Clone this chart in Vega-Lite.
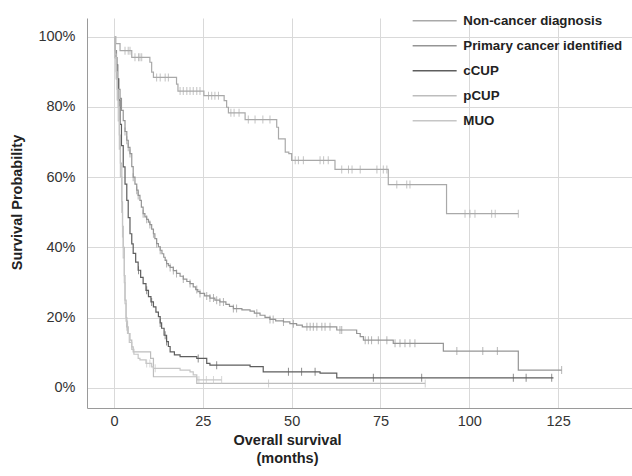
{
"$schema": "https://vega.github.io/schema/vega-lite/v6.json",
"width": 545, "height": 390,
"autosize": {"type": "none"},
"padding": {"left": 87, "top": 18, "right": 0, "bottom": 68},
"background": "white",
"config": {
 "view": {"stroke": null},
 "font": "Liberation Sans",
 "axis": {"gridColor": "#d9d9d9", "gridWidth": 1, "domainColor": "#9a9a9a", "domainWidth": 1, "ticks": false, "labelFontSize": 14.5, "labelColor": "#333333", "labelFont": "Liberation Sans", "titleFont": "Liberation Sans", "titleFontSize": 14.5, "titleFontWeight": "bold", "titleColor": "#222222"}
},
"datasets": {
 "steps": [
  {"g":"Non-cancer diagnosis","t":0,"s":100},{"g":"Non-cancer diagnosis","t":0.5,"s":98},{"g":"Non-cancer diagnosis","t":1.7,"s":96},{"g":"Non-cancer diagnosis","t":5,"s":94.1},{"g":"Non-cancer diagnosis","t":10.1,"s":92.7},{"g":"Non-cancer diagnosis","t":10.6,"s":89.9},{"g":"Non-cancer diagnosis","t":11.1,"s":88.4},{"g":"Non-cancer diagnosis","t":17.6,"s":86.5},{"g":"Non-cancer diagnosis","t":18,"s":84.5},{"g":"Non-cancer diagnosis","t":25.3,"s":83.2},{"g":"Non-cancer diagnosis","t":31,"s":81.8},{"g":"Non-cancer diagnosis","t":31.7,"s":79.9},{"g":"Non-cancer diagnosis","t":32.2,"s":78.3},{"g":"Non-cancer diagnosis","t":36.9,"s":76.4},{"g":"Non-cancer diagnosis","t":45.8,"s":74.2},{"g":"Non-cancer diagnosis","t":46.3,"s":70.9},{"g":"Non-cancer diagnosis","t":48.2,"s":67.1},{"g":"Non-cancer diagnosis","t":49.2,"s":66.7},{"g":"Non-cancer diagnosis","t":50,"s":64.8},{"g":"Non-cancer diagnosis","t":62.2,"s":62.2},{"g":"Non-cancer diagnosis","t":77.2,"s":57.9},{"g":"Non-cancer diagnosis","t":93.6,"s":49.6},{"g":"Non-cancer diagnosis","t":113.8,"s":49.6},
  {"g":"Primary cancer identified","t":0,"s":100},{"g":"Primary cancer identified","t":0.3,"s":96},{"g":"Primary cancer identified","t":0.7,"s":92},{"g":"Primary cancer identified","t":1.1,"s":88},{"g":"Primary cancer identified","t":1.4,"s":85},{"g":"Primary cancer identified","t":1.7,"s":82.4},{"g":"Primary cancer identified","t":2.1,"s":79},{"g":"Primary cancer identified","t":2.6,"s":76.1},{"g":"Primary cancer identified","t":3.1,"s":73},{"g":"Primary cancer identified","t":3.6,"s":70.5},{"g":"Primary cancer identified","t":4.0,"s":68.5},{"g":"Primary cancer identified","t":4.5,"s":66.7},{"g":"Primary cancer identified","t":5.0,"s":63},{"g":"Primary cancer identified","t":5.4,"s":60},{"g":"Primary cancer identified","t":5.9,"s":58},{"g":"Primary cancer identified","t":6.4,"s":56.3},{"g":"Primary cancer identified","t":6.8,"s":54.8},{"g":"Primary cancer identified","t":7.3,"s":53.4},{"g":"Primary cancer identified","t":7.7,"s":51.5},{"g":"Primary cancer identified","t":8.2,"s":49.6},{"g":"Primary cancer identified","t":8.7,"s":48.7},{"g":"Primary cancer identified","t":9.2,"s":48},{"g":"Primary cancer identified","t":9.7,"s":47.2},{"g":"Primary cancer identified","t":10.1,"s":46.5},{"g":"Primary cancer identified","t":10.6,"s":45.2},{"g":"Primary cancer identified","t":11.1,"s":43.9},{"g":"Primary cancer identified","t":11.5,"s":42.5},{"g":"Primary cancer identified","t":12,"s":41.1},{"g":"Primary cancer identified","t":12.5,"s":40.2},{"g":"Primary cancer identified","t":13,"s":39.2},{"g":"Primary cancer identified","t":13.5,"s":38.2},{"g":"Primary cancer identified","t":14,"s":37.2},{"g":"Primary cancer identified","t":14.4,"s":36.3},{"g":"Primary cancer identified","t":14.8,"s":35.4},{"g":"Primary cancer identified","t":15.3,"s":34.8},{"g":"Primary cancer identified","t":15.8,"s":34.3},{"g":"Primary cancer identified","t":16.7,"s":33.4},{"g":"Primary cancer identified","t":17.6,"s":32.6},{"g":"Primary cancer identified","t":18.6,"s":31.8},{"g":"Primary cancer identified","t":19.5,"s":31},{"g":"Primary cancer identified","t":20.5,"s":30.3},{"g":"Primary cancer identified","t":21.4,"s":29.7},{"g":"Primary cancer identified","t":22.3,"s":28.8},{"g":"Primary cancer identified","t":23,"s":28},{"g":"Primary cancer identified","t":23.6,"s":27.4},{"g":"Primary cancer identified","t":24.2,"s":26.9},{"g":"Primary cancer identified","t":25.5,"s":26.2},{"g":"Primary cancer identified","t":27,"s":25.6},{"g":"Primary cancer identified","t":28.4,"s":25},{"g":"Primary cancer identified","t":29.8,"s":24.5},{"g":"Primary cancer identified","t":31.5,"s":23.8},{"g":"Primary cancer identified","t":32.5,"s":23.2},{"g":"Primary cancer identified","t":33.6,"s":22.6},{"g":"Primary cancer identified","t":36,"s":22.2},{"g":"Primary cancer identified","t":38.3,"s":21.9},{"g":"Primary cancer identified","t":39.5,"s":21.3},{"g":"Primary cancer identified","t":41.1,"s":20.7},{"g":"Primary cancer identified","t":42.5,"s":20.1},{"g":"Primary cancer identified","t":43.9,"s":19.5},{"g":"Primary cancer identified","t":45.5,"s":19.1},{"g":"Primary cancer identified","t":47.7,"s":18.8},{"g":"Primary cancer identified","t":49.5,"s":18.3},{"g":"Primary cancer identified","t":51.4,"s":17.9},{"g":"Primary cancer identified","t":53,"s":17.4},{"g":"Primary cancer identified","t":62.7,"s":16.5},{"g":"Primary cancer identified","t":68.3,"s":15.5},{"g":"Primary cancer identified","t":69.3,"s":14.6},{"g":"Primary cancer identified","t":70.2,"s":13.6},{"g":"Primary cancer identified","t":78.6,"s":12.7},{"g":"Primary cancer identified","t":92.7,"s":10.5},{"g":"Primary cancer identified","t":113.8,"s":5.1},{"g":"Primary cancer identified","t":126,"s":5.1},
  {"g":"cCUP","t":0,"s":100},{"g":"cCUP","t":0.4,"s":94},{"g":"cCUP","t":0.8,"s":88},{"g":"cCUP","t":1.2,"s":82},{"g":"cCUP","t":1.7,"s":75},{"g":"cCUP","t":2.1,"s":69},{"g":"cCUP","t":2.6,"s":62.9},{"g":"cCUP","t":3.1,"s":58},{"g":"cCUP","t":3.6,"s":53.4},{"g":"cCUP","t":4.0,"s":48.5},{"g":"cCUP","t":4.5,"s":43.9},{"g":"cCUP","t":5.0,"s":41},{"g":"cCUP","t":5.4,"s":38.3},{"g":"cCUP","t":6.1,"s":35.8},{"g":"cCUP","t":6.8,"s":33.5},{"g":"cCUP","t":7.5,"s":31.5},{"g":"cCUP","t":8.2,"s":29.7},{"g":"cCUP","t":9.0,"s":27.8},{"g":"cCUP","t":9.7,"s":26},{"g":"cCUP","t":10.4,"s":24.5},{"g":"cCUP","t":11.1,"s":23.1},{"g":"cCUP","t":11.8,"s":21.6},{"g":"cCUP","t":12.5,"s":20.3},{"g":"cCUP","t":13.0,"s":18.5},{"g":"cCUP","t":13.4,"s":17},{"g":"cCUP","t":14.1,"s":15},{"g":"cCUP","t":14.8,"s":13.2},{"g":"cCUP","t":15.3,"s":11.8},{"g":"cCUP","t":15.8,"s":10.3},{"g":"cCUP","t":17,"s":9.4},{"g":"cCUP","t":18.6,"s":8.9},{"g":"cCUP","t":23.3,"s":8.4},{"g":"cCUP","t":26.1,"s":7},{"g":"cCUP","t":27,"s":6.5},{"g":"cCUP","t":38.3,"s":6.1},{"g":"cCUP","t":42,"s":4.6},{"g":"cCUP","t":58,"s":4.2},{"g":"cCUP","t":62.7,"s":2.9},{"g":"cCUP","t":123.7,"s":2.9},
  {"g":"pCUP","t":0,"s":100},{"g":"pCUP","t":0.3,"s":95},{"g":"pCUP","t":0.6,"s":90},{"g":"pCUP","t":0.9,"s":85},{"g":"pCUP","t":1.2,"s":80},{"g":"pCUP","t":1.5,"s":72},{"g":"pCUP","t":1.8,"s":64},{"g":"pCUP","t":2.2,"s":53},{"g":"pCUP","t":2.4,"s":46},{"g":"pCUP","t":2.6,"s":40},{"g":"pCUP","t":2.9,"s":32},{"g":"pCUP","t":3.1,"s":25},{"g":"pCUP","t":3.4,"s":20},{"g":"pCUP","t":3.6,"s":17.4},{"g":"pCUP","t":4.0,"s":15.5},{"g":"pCUP","t":4.5,"s":13.6},{"g":"pCUP","t":5.0,"s":11.7},{"g":"pCUP","t":5.4,"s":10.3},{"g":"pCUP","t":10.3,"s":8.4},{"g":"pCUP","t":11.1,"s":3.2},{"g":"pCUP","t":23.3,"s":1.3},{"g":"pCUP","t":87.6,"s":1.3},
  {"g":"MUO","t":0,"s":100},{"g":"MUO","t":0.3,"s":94},{"g":"MUO","t":0.6,"s":88},{"g":"MUO","t":0.9,"s":82},{"g":"MUO","t":1.2,"s":76},{"g":"MUO","t":1.5,"s":68},{"g":"MUO","t":1.8,"s":60},{"g":"MUO","t":2.2,"s":50},{"g":"MUO","t":2.4,"s":43},{"g":"MUO","t":2.6,"s":37},{"g":"MUO","t":2.9,"s":30},{"g":"MUO","t":3.1,"s":24},{"g":"MUO","t":3.4,"s":19},{"g":"MUO","t":3.8,"s":15.5},{"g":"MUO","t":4.3,"s":13},{"g":"MUO","t":5.0,"s":11},{"g":"MUO","t":5.6,"s":9.6},{"g":"MUO","t":6.8,"s":8.4},{"g":"MUO","t":7.3,"s":8.0},{"g":"MUO","t":9.0,"s":7.0},{"g":"MUO","t":10.6,"s":6.0},{"g":"MUO","t":11.1,"s":5.6},{"g":"MUO","t":18.6,"s":5.1},{"g":"MUO","t":21.4,"s":4.6},{"g":"MUO","t":22.3,"s":3.7},{"g":"MUO","t":23.3,"s":2.3},{"g":"MUO","t":30.3,"s":2.3}
 ],
 "cens": [
  {"g":"Non-cancer diagnosis","t":3.1,"s":96},{"g":"Non-cancer diagnosis","t":4,"s":96},{"g":"Non-cancer diagnosis","t":4.5,"s":96},
  {"g":"Non-cancer diagnosis","t":5.9,"s":94.1},{"g":"Non-cancer diagnosis","t":6.9,"s":94.1},{"g":"Non-cancer diagnosis","t":7.3,"s":94.1},{"g":"Non-cancer diagnosis","t":7.8,"s":94.1},
  {"g":"Non-cancer diagnosis","t":12,"s":88.4},{"g":"Non-cancer diagnosis","t":13,"s":88.4},{"g":"Non-cancer diagnosis","t":14.4,"s":88.4},{"g":"Non-cancer diagnosis","t":15.3,"s":88.4},
  {"g":"Non-cancer diagnosis","t":18.6,"s":84.5},{"g":"Non-cancer diagnosis","t":19.5,"s":84.5},{"g":"Non-cancer diagnosis","t":20.5,"s":84.5},{"g":"Non-cancer diagnosis","t":21.4,"s":84.5},{"g":"Non-cancer diagnosis","t":22.3,"s":84.5},{"g":"Non-cancer diagnosis","t":23.3,"s":84.5},{"g":"Non-cancer diagnosis","t":24.2,"s":84.5},
  {"g":"Non-cancer diagnosis","t":26.6,"s":83.2},{"g":"Non-cancer diagnosis","t":27.5,"s":83.2},{"g":"Non-cancer diagnosis","t":28.4,"s":83.2},{"g":"Non-cancer diagnosis","t":29.4,"s":83.2},
  {"g":"Non-cancer diagnosis","t":32.9,"s":78.3},{"g":"Non-cancer diagnosis","t":33.8,"s":78.3},{"g":"Non-cancer diagnosis","t":35.2,"s":78.3},
  {"g":"Non-cancer diagnosis","t":37.8,"s":76.4},{"g":"Non-cancer diagnosis","t":39.7,"s":76.4},{"g":"Non-cancer diagnosis","t":41.9,"s":76.4},{"g":"Non-cancer diagnosis","t":43.9,"s":76.4},
  {"g":"Non-cancer diagnosis","t":51,"s":64.8},{"g":"Non-cancer diagnosis","t":51.9,"s":64.8},{"g":"Non-cancer diagnosis","t":53.3,"s":64.8},{"g":"Non-cancer diagnosis","t":58,"s":64.8},{"g":"Non-cancer diagnosis","t":59,"s":64.8},{"g":"Non-cancer diagnosis","t":60.3,"s":64.8},
  {"g":"Non-cancer diagnosis","t":64.1,"s":62.2},{"g":"Non-cancer diagnosis","t":66,"s":62.2},{"g":"Non-cancer diagnosis","t":67,"s":62.2},{"g":"Non-cancer diagnosis","t":69.3,"s":62.2},{"g":"Non-cancer diagnosis","t":74,"s":62.2},{"g":"Non-cancer diagnosis","t":75.8,"s":62.2},{"g":"Non-cancer diagnosis","t":76.8,"s":62.2},
  {"g":"Non-cancer diagnosis","t":79.6,"s":57.9},{"g":"Non-cancer diagnosis","t":82.4,"s":57.9},{"g":"Non-cancer diagnosis","t":83.3,"s":57.9},
  {"g":"Non-cancer diagnosis","t":98.8,"s":49.6},{"g":"Non-cancer diagnosis","t":100.2,"s":49.6},{"g":"Non-cancer diagnosis","t":101.6,"s":49.6},{"g":"Non-cancer diagnosis","t":106.3,"s":49.6},{"g":"Non-cancer diagnosis","t":107.3,"s":49.6},{"g":"Non-cancer diagnosis","t":113.8,"s":49.6},
  {"g":"Primary cancer identified","t":3.1,"s":73},{"g":"Primary cancer identified","t":3.6,"s":70.5},{"g":"Primary cancer identified","t":4.0,"s":68.5},{"g":"Primary cancer identified","t":4.5,"s":66.7},{"g":"Primary cancer identified","t":5.4,"s":60},{"g":"Primary cancer identified","t":6.4,"s":56.3},{"g":"Primary cancer identified","t":6.8,"s":54.8},{"g":"Primary cancer identified","t":8.2,"s":49.6},{"g":"Primary cancer identified","t":9.2,"s":48},{"g":"Primary cancer identified","t":10.1,"s":46.5},{"g":"Primary cancer identified","t":11.1,"s":43.9},{"g":"Primary cancer identified","t":12,"s":41.1},{"g":"Primary cancer identified","t":13,"s":39.2},{"g":"Primary cancer identified","t":14.8,"s":35.4},{"g":"Primary cancer identified","t":15.8,"s":34.3},{"g":"Primary cancer identified","t":16.7,"s":33.4},{"g":"Primary cancer identified","t":17.6,"s":32.6},{"g":"Primary cancer identified","t":19.5,"s":31},{"g":"Primary cancer identified","t":21.4,"s":29.7},{"g":"Primary cancer identified","t":23.3,"s":28},{"g":"Primary cancer identified","t":24.2,"s":26.9},{"g":"Primary cancer identified","t":26.1,"s":26.2},{"g":"Primary cancer identified","t":27,"s":25.6},{"g":"Primary cancer identified","t":28,"s":25.6},{"g":"Primary cancer identified","t":28.9,"s":25},{"g":"Primary cancer identified","t":29.8,"s":24.5},{"g":"Primary cancer identified","t":30.8,"s":24.5},{"g":"Primary cancer identified","t":33.6,"s":22.6},{"g":"Primary cancer identified","t":34.5,"s":22.6},{"g":"Primary cancer identified","t":40.2,"s":21.3},{"g":"Primary cancer identified","t":43.9,"s":19.5},{"g":"Primary cancer identified","t":44.8,"s":19.5},{"g":"Primary cancer identified","t":47.7,"s":18.8},{"g":"Primary cancer identified","t":50.5,"s":18.3},{"g":"Primary cancer identified","t":54.3,"s":17.4},{"g":"Primary cancer identified","t":55.2,"s":17.4},{"g":"Primary cancer identified","t":56.1,"s":17.4},{"g":"Primary cancer identified","t":57.1,"s":17.4},{"g":"Primary cancer identified","t":58.5,"s":17.4},{"g":"Primary cancer identified","t":59.4,"s":17.4},{"g":"Primary cancer identified","t":60.8,"s":17.4},{"g":"Primary cancer identified","t":63.6,"s":16.5},{"g":"Primary cancer identified","t":64.1,"s":16.5},{"g":"Primary cancer identified","t":70.7,"s":13.6},{"g":"Primary cancer identified","t":71.6,"s":13.6},{"g":"Primary cancer identified","t":72.5,"s":13.6},{"g":"Primary cancer identified","t":74.4,"s":13.6},{"g":"Primary cancer identified","t":76.8,"s":13.6},{"g":"Primary cancer identified","t":79.1,"s":12.7},{"g":"Primary cancer identified","t":80.5,"s":12.7},{"g":"Primary cancer identified","t":81.9,"s":12.7},{"g":"Primary cancer identified","t":83.3,"s":12.7},{"g":"Primary cancer identified","t":84.7,"s":12.7},{"g":"Primary cancer identified","t":96.5,"s":10.5},{"g":"Primary cancer identified","t":103.8,"s":10.5},{"g":"Primary cancer identified","t":107.9,"s":10.5},{"g":"Primary cancer identified","t":126,"s":5.1},
  {"g":"cCUP","t":6.9,"s":33.5},{"g":"cCUP","t":9.2,"s":27.8},{"g":"cCUP","t":10.6,"s":24.5},{"g":"cCUP","t":13,"s":18.5},{"g":"cCUP","t":14.4,"s":15},{"g":"cCUP","t":14.8,"s":13.2},{"g":"cCUP","t":23.7,"s":8.4},{"g":"cCUP","t":28.9,"s":6.5},{"g":"cCUP","t":49.1,"s":4.6},{"g":"cCUP","t":52.8,"s":4.6},{"g":"cCUP","t":56.6,"s":4.6},{"g":"cCUP","t":73,"s":2.9},{"g":"cCUP","t":86.6,"s":2.9},{"g":"cCUP","t":112.4,"s":2.9},{"g":"cCUP","t":116,"s":2.9},{"g":"cCUP","t":123.2,"s":2.9},
  {"g":"pCUP","t":3.6,"s":17.4},{"g":"pCUP","t":43.5,"s":1.3},{"g":"pCUP","t":87.6,"s":1.3},
  {"g":"MUO","t":9.2,"s":7},{"g":"MUO","t":10.1,"s":7},{"g":"MUO","t":11.6,"s":5.6},{"g":"MUO","t":23.9,"s":2.3},{"g":"MUO","t":26,"s":2.3},{"g":"MUO","t":28,"s":2.3},{"g":"MUO","t":30.3,"s":2.3}
 ]
},
"layer": [
 {
  "data": {"name": "steps"},
  "mark": {"type": "line", "interpolate": "step-after", "strokeWidth": 1.2},
  "encoding": {
   "x": {"field": "t", "type": "quantitative", "scale": {"domain": [-7.6, 145.8], "nice": false, "zero": false},
    "axis": {"values": [0, 25, 50, 75, 100, 125], "labelPadding": 6, "title": ["Overall survival", "(months)"], "titleX": 200, "titleAlign": "center", "titleAnchor": null, "titlePadding": 6, "titleLineHeight": 18}},
   "y": {"field": "s", "type": "quantitative", "scale": {"domain": [-5.7, 105.3], "nice": false, "zero": false},
    "axis": {"values": [0, 20, 40, 60, 80, 100], "labelExpr": "datum.value + '%'", "labelPadding": 12, "title": "Survival Probability", "titleX": -70, "titleY": 184, "titleAlign": "center", "titleBaseline": "middle", "titleAnchor": null}},
   "color": {"field": "g", "type": "nominal",
    "scale": {"domain": ["Non-cancer diagnosis", "Primary cancer identified", "cCUP", "pCUP", "MUO"], "range": ["#a9a9a9", "#959595", "#5e5e5e", "#bdbdbd", "#c6c6c6"]},
    "legend": {"title": null, "orient": "none", "legendX": 341, "legendY": -4, "padding": 0, "symbolType": "M-22,0H22", "symbolSize": 4, "symbolStrokeWidth": 1.5, "labelOffset": 22, "rowPadding": 11, "labelFontSize": 13.3, "labelFontWeight": "bold", "labelColor": "#222222", "labelFont": "Liberation Sans", "labelLimit": 300}}
  }
 },
 {
  "data": {"name": "cens"},
  "mark": {"type": "tick", "orient": "vertical", "size": 8, "thickness": 1},
  "encoding": {
   "x": {"field": "t", "type": "quantitative"},
   "y": {"field": "s", "type": "quantitative"},
   "color": {"field": "g", "type": "nominal", "legend": null}
  }
 }
]
}
